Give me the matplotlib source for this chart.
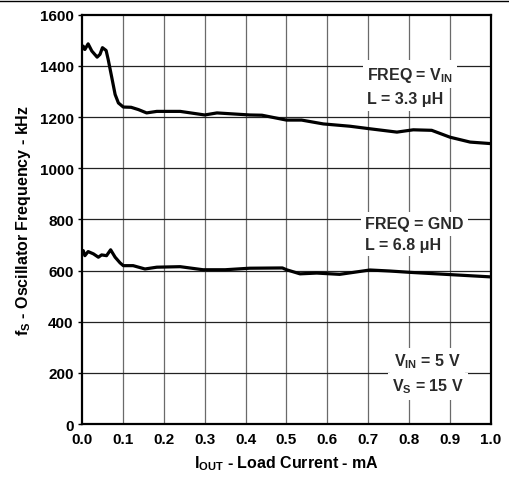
import numpy as np
import matplotlib
matplotlib.use("Agg")
import matplotlib.pyplot as plt
from matplotlib.lines import Line2D

plt.rcParams['font.family'] = ['Liberation Sans', 'DejaVu Sans']
plt.rcParams['font.weight'] = 'bold'
plt.rcParams['axes.labelweight'] = 'bold'
plt.rcParams['mathtext.fontset'] = 'custom'
plt.rcParams['mathtext.rm'] = 'Liberation Sans:bold'
plt.rcParams['mathtext.bf'] = 'Liberation Sans:bold'
plt.rcParams['mathtext.it'] = 'Liberation Sans:bold'

# upper curve, FREQ = VIN, L = 3.3 uH
x_hi = [0.0, 0.003, 0.007, 0.015, 0.024, 0.037, 0.044, 0.05, 0.059, 0.064, 0.073,
        0.081, 0.089, 0.101, 0.12, 0.138, 0.158, 0.183, 0.24, 0.30, 0.33, 0.41,
        0.44, 0.50, 0.537, 0.59, 0.655, 0.704, 0.77, 0.81, 0.855, 0.90, 0.949, 1.0]
f_hi = [1465, 1477, 1464, 1486, 1458, 1434, 1445, 1471, 1460, 1425, 1353,
        1288, 1255, 1239, 1238, 1229, 1216, 1222, 1222, 1208, 1216, 1208,
        1207, 1188, 1188, 1173, 1164, 1154, 1141, 1150, 1148, 1121, 1102, 1096]

# lower curve, FREQ = GND, L = 6.8 uH
x_lo = [0.0, 0.003, 0.007, 0.015, 0.028, 0.04, 0.048, 0.06, 0.07, 0.081, 0.093,
        0.101, 0.125, 0.154, 0.183, 0.24, 0.296, 0.35, 0.41, 0.49, 0.50, 0.533,
        0.574, 0.63, 0.704, 0.753, 0.80, 0.90, 1.0]
f_lo = [670, 678, 658, 674, 665, 652, 661, 658, 681, 652, 630,
        619, 619, 606, 613, 615, 603, 603, 609, 610, 603, 587,
        590, 585, 602, 598, 593, 584, 575]

x_ticks = [0.0, 0.1, 0.2, 0.3, 0.4, 0.5, 0.6, 0.7, 0.8, 0.9, 1.0]
y_ticks = [0, 200, 400, 600, 800, 1000, 1200, 1400, 1600]

fig = plt.figure(figsize=(5.09, 4.81), dpi=100)
ax = fig.add_axes([0.1611, 0.1164, 0.8035, 0.851])

for xv in x_ticks[1:-1]:
    ax.axvline(xv, color='#6a6a6a', lw=0.9, zorder=1)
for yv in y_ticks[1:-1]:
    ax.axhline(yv, color='#222222', lw=0.9, zorder=1)

ax.plot(x_hi, f_hi, color='black', lw=2.3, zorder=3)
ax.plot(x_lo, f_lo, color='black', lw=2.3, zorder=3)

ax.set_xlim(0, 1.0)
ax.set_ylim(0, 1600)
ax.set_xticks(x_ticks)
ax.set_xticklabels(['%.1f' % v for v in x_ticks], fontweight='bold')
ax.set_yticks(y_ticks)
ax.set_yticklabels([str(v) for v in y_ticks], fontweight='bold')
ax.tick_params(axis='both', labelsize=11, length=3, width=1, direction='out', pad=3)
ax.tick_params(axis='x', length=0, pad=6)
for s in ax.spines.values():
    s.set_linewidth(1.6)

ax.set_xlabel(r'I$_{\rm OUT}$ - Load Current - mA', fontsize=11.5, fontweight='bold', labelpad=5)
ax.set_ylabel(r'f$_{\rm S}$ - Oscillator Frequency - kHz', fontsize=11.5, fontweight='bold', labelpad=5)

box = dict(facecolor='white', edgecolor='none', pad=3)
txt_c = '#2a2a2a'
fs = 11.5
ax.text(0.697, 1368, r'FREQ = V$_{\rm IN}$', fontsize=fs, fontweight='bold', color=txt_c, va='center', ha='left', zorder=4, bbox=box)
ax.text(0.697, 1271, 'L = 3.3 \u03bcH', fontsize=fs, fontweight='bold', color=txt_c, va='center', ha='left', zorder=4, bbox=box)
ax.text(0.692, 782, 'FREQ = GND', fontsize=fs, fontweight='bold', color=txt_c, va='center', ha='left', zorder=4, bbox=box)
ax.text(0.692, 701, 'L = 6.8 \u03bcH', fontsize=fs, fontweight='bold', color=txt_c, va='center', ha='left', zorder=4, bbox=box)
ax.text(0.845, 246, r'V$_{\rm IN}$ = 5 V', fontsize=fs, fontweight='bold', color=txt_c, va='center', ha='center', zorder=4, bbox=box)
ax.text(0.845, 148, r'V$_{\rm S}$ = 15 V', fontsize=fs, fontweight='bold', color=txt_c, va='center', ha='center', zorder=4, bbox=box)

fig.add_artist(Line2D([0, 1], [1 - 1.5 / 481, 1 - 1.5 / 481], color='black', lw=1.0, transform=fig.transFigure))

fig.savefig('out.png', dpi=100)
